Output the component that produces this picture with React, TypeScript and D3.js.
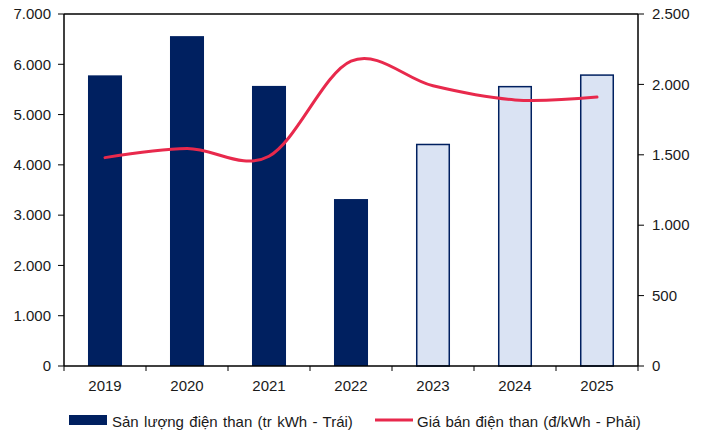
import React from "react";
import * as d3 from "d3";

// Coal power output (million kWh, left axis) and selling price (VND/kWh, right axis)
const years = ["2019", "2020", "2021", "2022", "2023", "2024", "2025"];
const output = [5780, 6560, 5570, 3320, 4420, 5570, 5800];
const price = [1480, 1545, 1490, 2165, 1990, 1890, 1910];
const forecastFrom = "2023";
const leftTicks = [0, 1000, 2000, 3000, 4000, 5000, 6000, 7000];
const rightTicks = [0, 500, 1000, 1500, 2000, 2500];
const legendBar = "Sản lượng điện than (tr kWh - Trái)";
const legendLine = "Giá bán điện than (đ/kWh - Phải)";

const W = 708;
const H = 430;
const M = { left: 64, right: 638, top: 14, bottom: 366 };
const NAVY = "#002060";
const LIGHT = "#DAE3F3";
const RED = "#E8294C";
const FONT = "Liberation Sans, Arial, sans-serif";

const fmt = (v: number) => d3.format(",")(v).replace(/,/g, ".");

export default function App() {
  const x = d3.scaleBand<string>().domain(years).range([M.left, M.right]).paddingInner(0.585).paddingOuter(0.2925);
  const xb = d3.scaleBand<string>().domain(years).range([M.left, M.right]);
  const yL = d3.scaleLinear().domain([0, 7000]).range([M.bottom, M.top]);
  const yR = d3.scaleLinear().domain([0, 2500]).range([M.bottom, M.top]);

  const line = d3
    .line<number>()
    .x((_, i) => (xb(years[i]) as number) + xb.bandwidth() / 2)
    .y((d) => yR(d))
    .curve(d3.curveCardinal.tension(0));

  const fIdx = years.indexOf(forecastFrom);

  return (
    <svg width={W} height={H} style={{ position: "absolute", left: 0, top: 0, background: "#fff" }} fontFamily={FONT}>
      {/* bars */}
      {output.map((v, i) => {
        const fc = i >= fIdx;
        const bx = x(years[i]) as number;
        return fc ? (
          <rect key={i} x={bx + 0.75} y={yL(v) + 0.75} width={x.bandwidth() - 1.5} height={yL(0) - yL(v) - 0.75}
            fill={LIGHT} stroke={NAVY} strokeWidth={1.5} />
        ) : (
          <rect key={i} x={bx} y={yL(v)} width={x.bandwidth()} height={yL(0) - yL(v)} fill={NAVY} />
        );
      })}

      {/* frame */}
      <line x1={M.left} x2={M.right} y1={M.top} y2={M.top} stroke="#000" strokeWidth={1.5} />
      <line x1={M.left} x2={M.left} y1={M.top} y2={M.bottom} stroke="#000" strokeWidth={1.5} />
      <line x1={M.right} x2={M.right} y1={M.top} y2={M.bottom} stroke="#000" strokeWidth={1.5} />
      <line x1={M.left} x2={M.right} y1={M.bottom} y2={M.bottom} stroke="#000" strokeWidth={1.5} />

      {/* left axis */}
      {leftTicks.map((t) => (
        <g key={"l" + t}>
          <line x1={M.left - 6} x2={M.left} y1={yL(t)} y2={yL(t)} stroke="#000" strokeWidth={1} />
          <text x={51} y={yL(t)} dy="0.35em" textAnchor="end" fontSize={15} fill="#1a1a1a">{fmt(t)}</text>
        </g>
      ))}

      {/* right axis */}
      {rightTicks.map((t) => (
        <g key={"r" + t}>
          <line x1={M.right} x2={M.right + 6} y1={yR(t)} y2={yR(t)} stroke="#000" strokeWidth={1} />
          <text x={652} y={yR(t)} dy="0.35em" textAnchor="start" fontSize={15} fill="#1a1a1a">{fmt(t)}</text>
        </g>
      ))}

      {/* x axis */}
      {[...years.map((y) => xb(y) as number), M.right].map((p, i) => (
        <line key={"xt" + i} x1={p} x2={p} y1={M.bottom} y2={M.bottom + 5} stroke="#000" strokeWidth={1} />
      ))}
      {years.map((y) => (
        <text key={"xl" + y} x={(xb(y) as number) + xb.bandwidth() / 2} y={390.5} textAnchor="middle" fontSize={15} fill="#1a1a1a">{y}</text>
      ))}

      {/* price line */}
      <path d={line(price) || ""} fill="none" stroke={RED} strokeWidth={3} strokeLinecap="round" />

      {/* legend */}
      <rect x={69} y={415} width={38} height={10} fill={NAVY} />
      <text x={112} y={426.5} fontSize={15} fill="#1a1a1a" wordSpacing={1.2}>{legendBar}</text>
      <line x1={375} x2={413} y1={420} y2={420} stroke={RED} strokeWidth={3} />
      <text x={417} y={426.5} fontSize={15} fill="#1a1a1a" wordSpacing={0.9}>{legendLine}</text>
    </svg>
  );
}
